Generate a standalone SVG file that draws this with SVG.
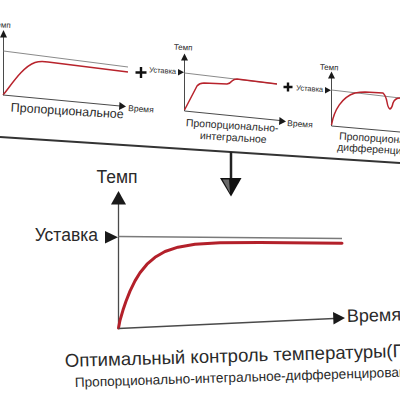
<svg xmlns="http://www.w3.org/2000/svg" width="400" height="400" viewBox="0 0 400 400">
<defs>
<style>
text{font-family:"Liberation Sans",Arial,sans-serif;fill:#2a2a2a}
.ax{stroke:#4a4a4a;stroke-width:1;fill:none}
.axb{stroke:#4a4a4a;stroke-width:1.3;fill:none}
.sp{stroke:#8a8a8a;stroke-width:1;fill:none}
.spb{stroke:#7a7a7a;stroke-width:1.3;fill:none}
.cv{stroke:#b8232c;stroke-width:1.5;fill:none;stroke-linejoin:round}
.cvb{stroke:#b3202a;stroke-width:3;fill:none;stroke-linejoin:round;stroke-linecap:round}
.ah{fill:#1a1a1a}
.plus{stroke:#111;stroke-width:2.4;fill:none}
</style>
</defs>
<rect width="400" height="400" fill="#fff"/>

<g id="panel-p">
<text x="10.5" y="28" font-size="8" text-anchor="end" transform="rotate(3.5 10.5 28)">Темп</text>
<line class="ax" x1="3.5" y1="95" x2="3.5" y2="37"/>
<polygon class="ah" points="0,37.5 7,37.5 3.5,30"/>
<line class="sp" x1="3.5" y1="51" x2="128" y2="67"/>
<path class="cv" d="M3,95 C10,87 22,67 35,62.5 Q40,61 48,62 L128,72"/>
<line class="ax" x1="3" y1="95" x2="120" y2="106"/>
<polygon class="ah" points="119.5,102 119,110 126,106.5"/>
<text x="128" y="111" font-size="8.5" transform="rotate(3.5 128 111)">Время</text>
<text x="67" y="115" font-size="12.5" text-anchor="middle" transform="rotate(3.5 67 115)">Пропорциональное</text>
</g>

<g id="plus-1"><path class="plus" d="M135.5,72.5 H146.5 M141,67 V78"/></g>

<g id="panel-pi">
<text x="183" y="50" font-size="8" text-anchor="middle" transform="rotate(3.5 183 50)">Темп</text>
<text x="176" y="74" font-size="7.5" text-anchor="end" transform="rotate(3.5 176 74)">Уставка</text>
<polygon class="ah" points="178,69 178,75.5 184,72.3"/>
<line class="ax" x1="184.5" y1="111" x2="184.5" y2="60"/>
<polygon class="ah" points="181,60.5 188,60.5 184.5,53.5"/>
<line class="sp" x1="184.5" y1="73" x2="277" y2="84"/>
<path class="cv" d="M184.5,110 L197,86 Q199.5,83 204,83 L227,84 Q230,83.5 232,81 Q234,79 237,79 L277,84"/>
<line class="ax" x1="184.5" y1="111" x2="280" y2="120.5"/>
<polygon class="ah" points="279.5,117 279,125 286,121.5"/>
<text x="287" y="126" font-size="8.5" transform="rotate(3.5 287 126)">Время</text>
<text x="232" y="129" font-size="10.5" text-anchor="middle" transform="rotate(3.5 232 129)">Пропорционально-</text>
<text x="233" y="141" font-size="10.5" text-anchor="middle" transform="rotate(3.5 233 141)">интегральное</text>
</g>

<g id="plus-2"><path class="plus" d="M283.5,87 H292.5 M288,82.5 V91.5"/></g>

<g id="panel-pd">
<text x="329" y="70" font-size="8" text-anchor="middle" transform="rotate(3.5 329 70)">Темп</text>
<text x="323" y="92" font-size="7.5" text-anchor="end" transform="rotate(3.5 323 92)">Уставка</text>
<polygon class="ah" points="325,87 325,93.5 331,90.3"/>
<line class="ax" x1="331.5" y1="126" x2="331.5" y2="78"/>
<polygon class="ah" points="328,78.5 335,78.5 331.5,71.5"/>
<line class="sp" x1="331.5" y1="90" x2="400" y2="98"/>
<path class="cv" d="M331.5,125 C334,110 342,97 355,93 Q360,92 365,92 L383,93 Q386,96 387,102 Q388,108 390,109 Q392,108 393,103 Q395,98 400,98"/>
<line class="ax" x1="331.5" y1="126" x2="400" y2="132"/>
<text x="339" y="139.5" font-size="10.5" transform="rotate(3.5 339 139.5)">Пропорционально-</text>
<text x="337" y="150.5" font-size="10.5" transform="rotate(3.5 337 150.5)">дифференциальное</text>
</g>

<line x1="0" y1="137" x2="400" y2="163" stroke="#333" stroke-width="2.2"/>

<g id="connectors">
<line x1="231" y1="152" x2="231" y2="179" stroke="#222" stroke-width="2.5"/>
<polygon points="220,178 241.5,178 231,196.5" fill="#111"/>
<polygon points="222.5,179.5 229,179.5 230,193" fill="#6a6a6a"/>
</g>

<g id="chart-pid">
<text x="117" y="183" font-size="17.5" text-anchor="middle">Темп</text>
<text x="98" y="241" font-size="17.5" text-anchor="end">Уставка</text>
<polygon class="ah" points="105,231 105,243.5 118,237.2"/>
<line class="axb" x1="118.5" y1="329" x2="118.5" y2="203"/>
<polygon class="ah" points="111,204.5 126,204.5 118.5,191"/>
<line class="spb" x1="118.5" y1="236.5" x2="342" y2="238.5"/>
<polyline class="cvb" points="118.5,328 120,320.3 123,310.1 126,301.2 130,291.1 135,280.9 140,272.8 147,264.2 155,257.3 165,251.5 178,247.2 195,244.3 220,242.7 260,242.4 342,243.2"/>
<line class="axb" x1="118.5" y1="328.5" x2="334" y2="318.5"/>
<polygon class="ah" points="333,312 333.5,324.5 345,318"/>
<text x="347" y="322" font-size="18" transform="rotate(-1.5 347 322)">Время</text>
<text x="65" y="367" font-size="18.5" transform="rotate(-1.7 65 367)">Оптимальный контроль температуры(ПИД)</text>
<text x="75" y="387" font-size="13.6" transform="rotate(-1.8 75 387)">Пропорционально-интегральное-дифференцированное</text>
</g>
</svg>
